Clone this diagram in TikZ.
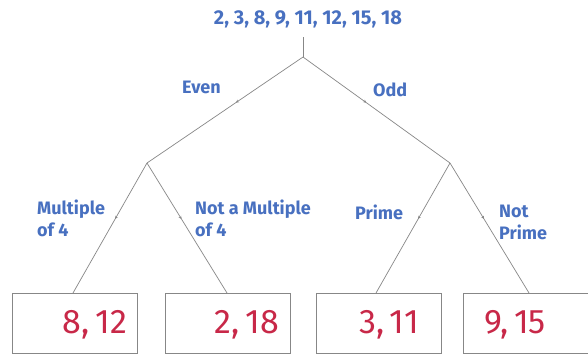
\documentclass[tikz,border=0pt]{standalone}
\usepackage{fontspec}
\setmainfont{Fira Sans}
\usetikzlibrary{decorations.markings,arrows.meta}
\definecolor{lblue}{RGB}{72,112,192}
\definecolor{hred}{RGB}{200,40,72}
\definecolor{lgrey}{RGB}{135,135,135}
\begin{document}
\begin{tikzpicture}[x=1pt,y=-1pt,
  lbl/.style={text=lblue,font=\fontsize{18}{22}\selectfont\bfseries,inner sep=0pt},
  branch/.style={draw=lgrey,line width=0.7pt,
    postaction={decorate},
    decoration={markings,mark=at position 0.43 with {\arrow{Stealth[length=3pt,width=3pt]}}}},
  leafbox/.style={draw=lgrey,line width=0.7pt,minimum width=125pt,minimum height=60pt,inner sep=0pt},
  hand/.style={text=hred,font=\fontsize{34}{36}\selectfont,inner sep=0pt}]
\useasboundingbox (0,0) rectangle (588,354);
\fill[white] (0,0) rectangle (588,354);
\node[lbl,font=\fontsize{20}{22}\selectfont\bfseries] (top) at (308,19) {2, 3, 8, 9, 11, 12, 15, 18};
\coordinate (j0) at (303,57);
\coordinate (jl) at (147,163);
\coordinate (jr) at (450,163);
\node[leafbox] (b1) at (74.5,323) {};
\node[leafbox] (b2) at (227.5,323) {};
\node[leafbox] (b3) at (379,323) {};
\node[leafbox] (b4) at (525.5,323) {};
\coordinate (t1) at (73,293);
\coordinate (t2) at (227,293);
\coordinate (t3) at (376,293);
\coordinate (t4) at (529,293);
\draw[draw=lgrey,line width=0.7pt] (303,37) -- (j0);
\draw[branch] (j0) -- (jl);
\draw[branch] (j0) -- (jr);
\draw[branch] (jl) -- (t1);
\draw[branch] (jl) -- (t2);
\draw[branch] (jr) -- (t3);
\draw[branch] (jr) -- (t4);
\node[lbl,anchor=west] (even) at (182,87) {Even};
\node[lbl,anchor=west] (odd) at (373,90) {Odd};
\node[lbl,anchor=west,align=left] (m4) at (37,218) {Multiple\\of 4};
\node[lbl,anchor=west,align=left] (nm4) at (195,218) {Not a Multiple\\of 4};
\node[lbl,anchor=west] (pr) at (355,212) {Prime};
\node[lbl,anchor=west,align=left] (npr) at (499,222) {Not\\Prime};
\node[hand] (v1) at (95,325) {8,\,12};
\node[hand] (v2) at (247,325) {2,\,18};
\node[hand] (v3) at (389,325) {3,\,11};
\node[hand] (v4) at (515,325) {9,\,15};
\end{tikzpicture}
\end{document}
